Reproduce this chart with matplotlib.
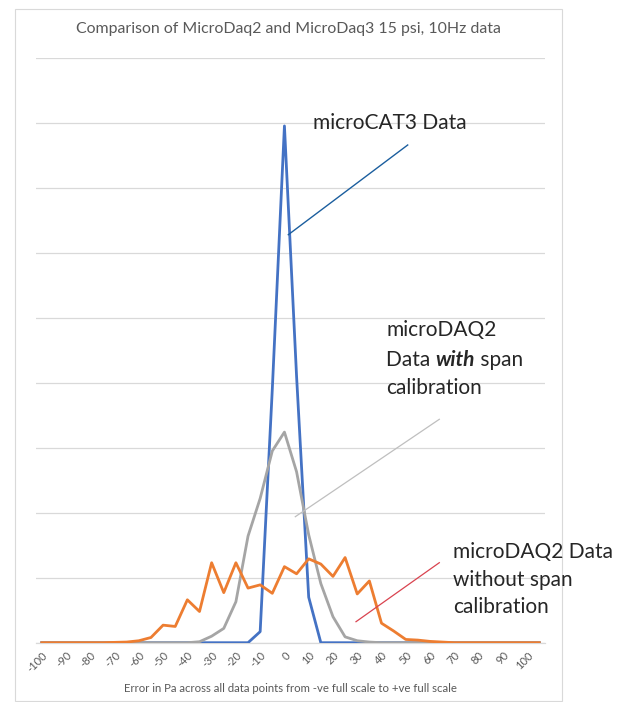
import matplotlib
matplotlib.use("Agg")
import matplotlib.pyplot as plt
from matplotlib.lines import Line2D
from matplotlib.patches import Rectangle

# ---- data ----
categories = [-100, -95, -90, -85, -80, -75, -70, -65, -60, -55, -50, -45, -40, -35,
              -30, -25, -20, -15, -10, -5, 0, 5, 10, 15, 20, 25, 30, 35, 40, 45,
              50, 55, 60, 65, 70, 75, 80, 85, 90, 95, 100, 105]
microcat3 = [0, 0, 0, 0, 0, 0, 0, 0, 0, 0, 0, 0, 0, 0,
             0, 0, 0, 0, 0.17, 3.9, 7.95, 4.1, 0.7, 0, 0, 0, 0, 0, 0, 0,
             0, 0, 0, 0, 0, 0, 0, 0, 0, 0, 0, 0]
without_span = [0, 0, 0, 0, 0, 0, 0.005, 0.01, 0.03, 0.08, 0.27, 0.25, 0.66, 0.48,
                1.23, 0.77, 1.23, 0.84, 0.89, 0.76, 1.17, 1.06, 1.29, 1.21, 1.02, 1.31, 0.75, 0.95, 0.30, 0.18,
                0.05, 0.04, 0.02, 0.01, 0, 0, 0, 0, 0, 0, 0, 0]
with_span = [0, 0, 0, 0, 0, 0, 0, 0, 0, 0, 0, 0, 0, 0.015,
             0.10, 0.22, 0.63, 1.64, 2.22, 2.95, 3.24, 2.63, 1.66, 0.91, 0.40, 0.09, 0.03, 0.01, 0, 0,
             0, 0, 0, 0, 0, 0, 0, 0, 0, 0, 0, 0]
tick_labels = [str(c) for c in categories]
title = "Comparison of MicroDaq2 and MicroDaq3 15 psi, 10Hz data"
xlabel = "Error in Pa across all data points from -ve full scale to +ve full scale"

W, H = 628, 702
FONT = "Lato"
plt.rcParams["font.family"] = [FONT, "DejaVu Sans"]

fig = plt.figure(figsize=(W / 100, H / 100), dpi=100)

def fx(px):
    return px / W

def fy(py):
    return 1 - py / H

# chart border
fig.patches.append(Rectangle((fx(15), fy(701)), fx(561.5) - fx(15), fy(9) - fy(701),
                             transform=fig.transFigure, fill=False,
                             edgecolor="#d9d9d9", lw=0.8))

ax = fig.add_axes([fx(35.7), fy(642.7), fx(545.3) - fx(35.7), fy(57.7) - fy(642.7)])
x = list(range(len(categories)))
ax.plot(x, microcat3, color="#4472C4", lw=2.0, zorder=3, solid_joinstyle="round")
ax.plot(x, with_span, color="#A5A5A5", lw=2.0, zorder=4, solid_joinstyle="round")
ax.plot(x, without_span, color="#ED7D31", lw=2.0, zorder=5, solid_joinstyle="round")

ax.set_xlim(-0.5, len(categories) - 0.5)
ax.set_ylim(0, 9)
ax.set_yticks(range(0, 10))
ax.yaxis.grid(True, color="#d9d9d9", lw=0.9)
ax.set_axisbelow(True)
ax.tick_params(axis="y", left=False, labelleft=False)
for s in ["left", "right", "top"]:
    ax.spines[s].set_visible(False)
ax.spines["bottom"].set_color("#d9d9d9")
ax.spines["bottom"].set_linewidth(0.9)
ax.set_xticks(x[::2])
ax.set_xticklabels(tick_labels[::2], rotation=45, ha="right", va="top",
                   rotation_mode="anchor", fontsize=8, color="#595959")
ax.tick_params(axis="x", length=0, pad=5)

fig.text(fx(288), fy(29), title, ha="center", va="center", fontsize=11.4, color="#595959")
fig.text(fx(290), fy(688), xlabel, ha="center", va="center", fontsize=8.2, color="#595959")

# annotation leader lines
fig.add_artist(Line2D([fx(288.3), fx(407.7)], [fy(234.7), fy(145)], transform=fig.transFigure,
                      color="#1b5e9e", lw=1.0))
fig.add_artist(Line2D([fx(295.3), fx(439.3)], [fy(516.7), fy(419.3)], transform=fig.transFigure,
                      color="#bfbfbf", lw=0.9))
fig.add_artist(Line2D([fx(356), fx(439.3)], [fy(621.7), fy(562.7)], transform=fig.transFigure,
                      color="#d9434f", lw=0.9))

TS = 15
TC = "#262626"
fig.text(fx(313), fy(122.7), "microCAT3 Data", ha="left", va="center", fontsize=TS, color=TC)

fig.text(fx(386), fy(330), "microDAQ2", ha="left", va="center", fontsize=TS, color=TC)
fig.canvas.draw()
r = fig.canvas.get_renderer()
t1 = fig.text(fx(386), fy(360), "Data ", ha="left", va="center", fontsize=TS, color=TC)
w1 = t1.get_window_extent(r).width
t2 = fig.text(fx(386 + w1), fy(360), "with", ha="left", va="center", fontsize=TS, color=TC,
              fontweight="bold", fontstyle="italic")
w2 = t2.get_window_extent(r).width
fig.text(fx(386 + w1 + w2), fy(360), " span", ha="left", va="center", fontsize=TS, color=TC)
fig.text(fx(386), fy(388), "calibration", ha="left", va="center", fontsize=TS, color=TC)

fig.text(fx(452.7), fy(551.7), "microDAQ2 Data", ha="left", va="center", fontsize=TS, color=TC)
fig.text(fx(452.7), fy(580), "without span", ha="left", va="center", fontsize=TS, color=TC)
fig.text(fx(452.7), fy(607.3), "calibration", ha="left", va="center", fontsize=TS, color=TC)

fig.savefig("out.png", dpi=100)
